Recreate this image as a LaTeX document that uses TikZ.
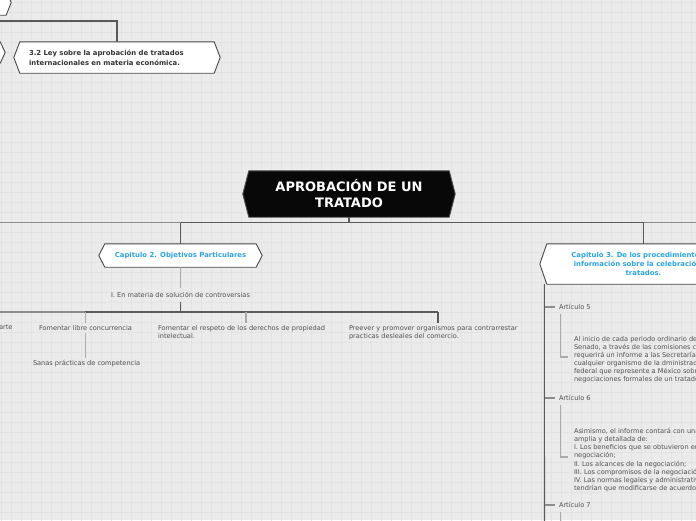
\documentclass[tikz,border=0pt]{standalone}
\usepackage{fontspec}
\setmainfont{DejaVu Sans}
\usetikzlibrary{calc}
\pgfdeclarelayer{bg}\pgfdeclarelayer{fr}
\pgfsetlayers{bg,fr,main}
\definecolor{bgc}{HTML}{EBEBEB}
\definecolor{gridc}{HTML}{E3E3E3}
\definecolor{txt}{HTML}{505050}
\definecolor{blu}{HTML}{2BA3E3}
\definecolor{dk}{HTML}{5A5A5A}
\definecolor{md}{HTML}{8C8C8C}
\definecolor{lt}{HTML}{ABABAB}
\definecolor{bd}{HTML}{484848}
\newcommand\hexfr[4]{%
 \begin{pgfonlayer}{fr}
 \filldraw[fill=#3,draw=#4,line width=0.9pt,line join=round] (#1.north west) -- (#1.north east) -- ([xshift=#2]#1.east) -- (#1.south east) -- (#1.south west) -- ([xshift=-#2]#1.west) -- cycle;
 \end{pgfonlayer}}
\tikzset{
 hexn/.style={inner sep=0pt, align=center},
 ttl/.style={font=\fontsize{13}{16}\selectfont\bfseries, text=white},
 captxt/.style={font=\fontsize{6.9}{9}\selectfont\bfseries, text=blu},
 bt/.style={font=\fontsize{6.9}{10}\selectfont\bfseries, text=black!80},
 sm/.style={font=\fontsize{6.6}{8}\selectfont, text=txt, inner sep=0pt, outer xsep=0pt, outer ysep=2.5pt, align=left},
 para/.style={sm, font=\fontsize{6.6}{8.1}\selectfont},
 dkl/.style={draw=dk, line width=1.1pt},
 mdl/.style={draw=md, line width=1.1pt},
 ltl/.style={draw=lt, line width=1.2pt}
}
\begin{document}
\begin{tikzpicture}[x=1pt,y=-1pt]
\useasboundingbox (0,0) rectangle (696,520);
\begin{pgfonlayer}{bg}
 \fill[bgc] (0,0) rectangle (696,520);
 \draw[gridc,line width=0.5pt,step=10pt,xshift=1.7pt,yshift=-2pt] (-10,-10) grid (710,530);
\end{pgfonlayer}
\clip (0,0) rectangle (696,520);

% partial nodes at the top left
\node[hexn,minimum width=206,minimum height=25] (tlnode) at (-97,2.5) {};
\hexfr{tlnode}{5}{white}{bd}
\node[hexn,minimum width=150,minimum height=21] (l2node) at (-75,52.5) {};
\hexfr{l2node}{5}{white}{bd}

% 3.2
\node[hexn,bt,minimum width=194,minimum height=31,text width=176,align=left] (n32) at (117,57.5)
 {3.2 Ley sobre la aprobación de tratados\\internacionales en materia económica.};
\hexfr{n32}{6}{white}{bd}
\coordinate (tl) at (0,21);
\draw[dkl] (tl) -| (n32.north);

% main
\node[hexn,ttl,minimum width=200,minimum height=46] (main) at (349,194) {APROBACIÓN DE UN\\TRATADO};
\hexfr{main}{6}{black!97}{black!70}

% chapters
\node[hexn,captxt,minimum width=151,minimum height=23] (cap2) at (180.5,255.5) {Capitulo 2. Objetivos Particulares};
\hexfr{cap2}{6}{white}{bd}
\node[hexn,captxt,minimum width=193,minimum height=40] (cap3) at (643.5,264)
 {Capitulo 3. De los procedimientos de\\información sobre la celebración de\\tratados.};
\hexfr{cap3}{7}{white}{bd}

\coordinate (hub) at (349,222.5);
\coordinate (hl) at (0,222.5);
\coordinate (hr) at (696,222.5);
\draw[dkl] (main.south) -- (hub);
\draw[dkl] (cap2.north|-hub) -- (cap3.north|-hub);
\draw[mdl] (hl) -- (cap2.north|-hub);
\draw[mdl] (cap3.north|-hub) -- (hr);
\draw[dkl] (cap2.north|-hub) -- (cap2.north);
\draw[dkl] (cap3.north|-hub) -- (cap3.north);

% chapter 2 subtree
\node[sm,anchor=center,outer ysep=4pt] (ct) at (180.5,295) {I. En materia de solución de controversias};
\draw[ltl] (cap2.south) -- (ct.north);
\coordinate (h2) at (180.5,312);
\coordinate (h2l) at (0,312);
\draw[dkl] (ct.south) -- (h2);

\node[sm,anchor=east] (ar) at (12.5,327.5) {arte};
\node[sm,anchor=north west] (fl) at (39,323) {Fomentar libre concurrencia};
\node[sm,anchor=north west] (sp) at (33,357.5) {Sanas prácticas de competencia};
\node[sm,anchor=north west,text width=176] (fr) at (158,323) {Fomentar el respeto de los derechos de propiedad\\intelectual.};
\node[sm,anchor=north west,text width=178] (pr) at (349,323) {Preever y promover organismos para contrarrestar\\practicas desleales del comercio.};

\draw[mdl] (h2l) -- (fl.north|-h2);
\draw[dkl] (fl.north|-h2) -- (pr.north|-h2);
\draw[ltl] (fl.north|-h2) -- (fl.north);
\draw[ltl] (fr.north|-h2) -- (fr.north);
\draw[dkl] (pr.north|-h2) -- (pr.north);
\draw[ltl] (fl.south) -- (fl.south|-sp.north);

% chapter 3 subtree
\coordinate (tr) at (544.5,525);
\draw[dkl] ([xshift=-2.5pt]cap3.south west) -- (tr);

\node[sm,anchor=west] (a5) at (559,307) {Artículo 5};
\node[para,anchor=west] (p5) at (574,359.5) {Al inicio de cada periodo ordinario de\\Senado, a través de las comisiones competentes,\\requerirá un informe a las Secretarías\\cualquier organismo de la dministración\\federal que represente a México sobre\\negociaciones formales de un tratado.};
\node[sm,anchor=west] (a6) at (559,398) {Artículo 6};
\node[para,anchor=west] (p6) at (574,460) {Asimismo, el informe contará con una\\amplia y detallada de:\\I. Los beneficios que se obtuvieron en\\negociación;\\II. Los alcances de la negociación;\\III. Los compromisos de la negociación;\\IV. Las normas legales y administrativas\\tendrían que modificarse de acuerdo};
\node[sm,anchor=west] (a7) at (559,505) {Artículo 7};
\coordinate (b7) at (560.5,525);

\foreach \a in {a5,a6,a7}{
 \draw[mdl] (\a.west -| tr) -- ([xshift=-4pt]\a.west);
}
\draw[ltl] ([xshift=1.5pt,yshift=-2pt]a5.south west) |- ([xshift=-6pt,yshift=2.5pt]p5.west);
\draw[ltl] ([xshift=1.5pt,yshift=-2pt]a6.south west) |- ([xshift=-6pt,yshift=3pt]p6.west);
\draw[ltl] ([xshift=1.5pt,yshift=-2pt]a7.south west) -- (b7);
\end{tikzpicture}
\end{document}
